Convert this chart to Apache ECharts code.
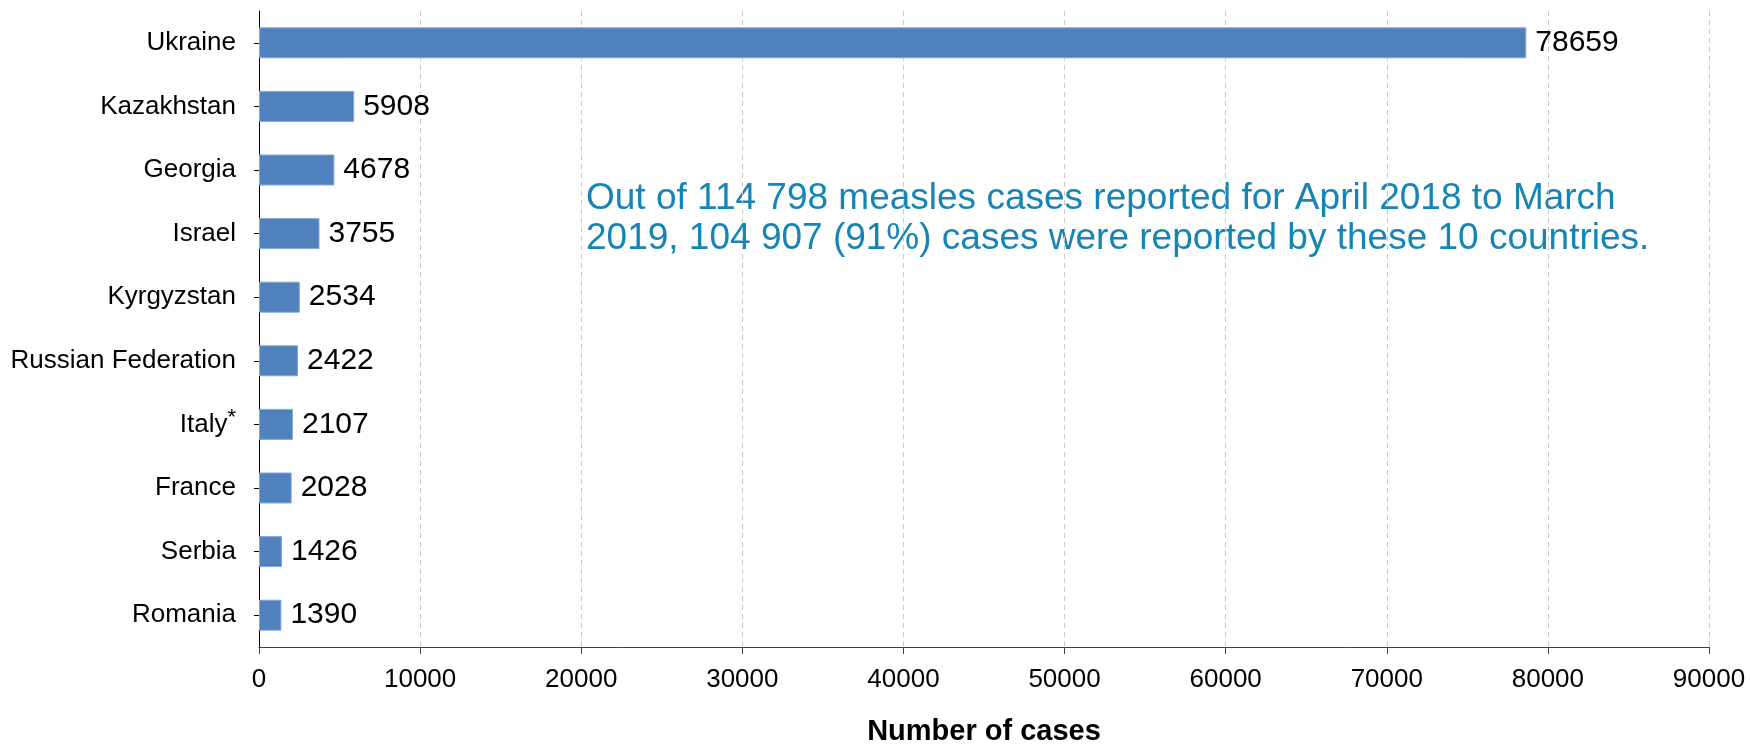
<!DOCTYPE html>
<html>
<head>
<meta charset="utf-8">
<script src="https://cdn.jsdelivr.net/npm/echarts@6/dist/echarts.min.js"></script>
<style>html,body{margin:0;padding:0;background:#fff;}#c{width:1750px;height:744px;}</style>
</head>
<body>
<div id="c"></div>
<script>
const categories = ["Ukraine","Kazakhstan","Georgia","Israel","Kyrgyzstan","Russian Federation","Italy","France","Serbia","Romania"];
const cases = [78659,5908,4678,3755,2534,2422,2107,2028,1426,1390];
const xTicks = {min: 0, max: 90000, interval: 10000};
const axisTitle = "Number of cases";
const note = "Out of 114 798 measles cases reported for April 2018 to March\n2019, 104 907 (91%) cases were reported by these 10 countries.";

const FONT = "'Liberation Sans', Arial, sans-serif";
const chart = echarts.init(document.getElementById('c'), null, {renderer: 'canvas'});
chart.setOption({
  animation: false,
  grid: {left: 259, right: 41, top: 11, bottom: 97, containLabel: false, outerBoundsMode: 'none'},
  xAxis: {
    type: 'value', min: xTicks.min, max: xTicks.max, interval: xTicks.interval,
    name: axisTitle, nameLocation: 'middle', nameGap: 70,
    nameTextStyle: {fontFamily: FONT, fontSize: 29, fontWeight: 'bold', color: '#000'},
    axisLine: {show: true, lineStyle: {color: '#404040', width: 1}},
    axisTick: {show: true, length: 7, lineStyle: {color: '#404040'}},
    axisLabel: {fontFamily: FONT, fontSize: 26, color: '#000', margin: 20, formatter: v => String(v)},
    splitLine: {show: true, lineStyle: {color: '#c8c8c8', type: [5, 4], width: 1}}
  },
  yAxis: {
    type: 'category', data: categories, inverse: true,
    axisLine: {show: true, lineStyle: {color: '#000', width: 1}},
    axisTick: {show: true, alignWithLabel: true, length: 5, lineStyle: {color: '#000'}},
    axisLabel: {
      fontFamily: FONT, fontSize: 26, color: '#000', margin: 23,
      formatter: v => v === 'Italy' ? 'Italy{sup|*}' : v,
      rich: {sup: {fontFamily: FONT, fontSize: 22, color: '#000', padding: [0, 0, 12, 0]}}
    },
    splitLine: {show: false}
  },
  series: [{
    type: 'bar', data: cases, barWidth: 31,
    itemStyle: {color: '#4f81bd', borderColor: '#86a8d4', borderWidth: 1},
    label: {show: true, position: 'right', distance: 9, fontFamily: FONT, fontSize: 30, color: '#000'}
  }],
  graphic: [{
    type: 'text', left: 586, top: 179,
    style: {text: note, fontFamily: FONT, fontSize: 37, lineHeight: 40, fill: '#1585b5'}
  }]
});
</script>
</body>
</html>
